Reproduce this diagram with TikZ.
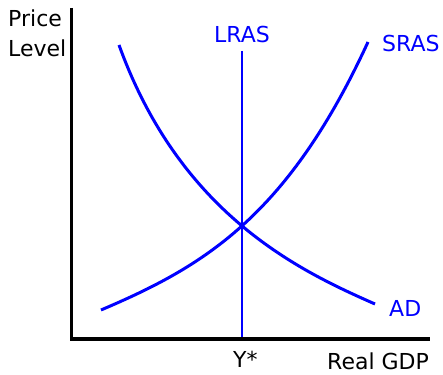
\documentclass[tikz,border=0pt]{standalone}
\usepackage{fontspec}
\setmainfont{DejaVu Sans}
\newcommand{\bigtxt}{\fontsize{22}{26}\selectfont}

\begin{document}
\begin{tikzpicture}[
  x=1pt, y=1pt,
  axis/.style={draw=black, line width=3.2pt},
  curve/.style={draw=blue, line width=3pt},
  lbl/.style={font=\bigtxt, inner sep=0pt, anchor=base west},
  clbl/.style={lbl, text=blue},
]
  \useasboundingbox (0,0) rectangle (443,374);

  \coordinate (o)    at (71.5,35);
  \coordinate (ytop) at (71.5,366);
  \coordinate (xend) at (430,35);

  \coordinate (lrtop)  at (242,323);
  \coordinate (lrbot)  at (242,35);
  \coordinate (adtop)  at (119,329);
  \coordinate (adend)  at (375,70);
  \coordinate (srlow)  at (101,64);
  \coordinate (srtop)  at (368,332);

  % long run supply, demand and short run supply
  \draw[curve, line width=2.7pt] (lrtop) -- (lrbot);
  \draw[curve] (adtop) .. controls (180.5,159) and (300,103) .. (adend);
  \draw[curve] (srlow) .. controls (202,107) and (287,156) .. (srtop);

  % axes on top
  \draw[axis] (ytop) -- (o) -- (xend);

  \node[lbl] (price) at (8,347.3) {Price};
  \node[lbl] (level) at (8,317.3) {Level};
  \node[clbl] (lras) at (214,331.7) {LRAS};
  \node[clbl] (sras) at (382,322.3) {SRAS};
  \node[clbl] (ad)   at (389,57.3)  {AD};
  \node[lbl] (ystar) at (233,6.3) {Y*};
  \node[lbl] (gdp)   at (327,4.5) {Real GDP};
\end{tikzpicture}
\end{document}
